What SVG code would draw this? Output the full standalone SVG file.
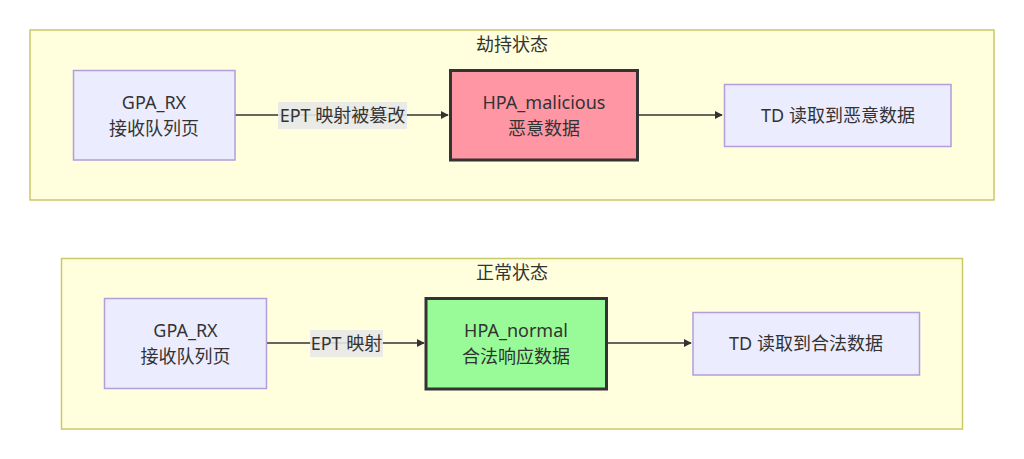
<svg xmlns="http://www.w3.org/2000/svg" width="1024" height="459" viewBox="0 0 1024 459">
<style>
text{font-family:"Noto Sans","Noto Sans CJK SC",sans-serif;font-size:18px;fill:#333;text-anchor:middle;dominant-baseline:central}
.cluster{fill:#ffffde;stroke:#c9c967;stroke-width:1.5}
.node{fill:#ececff;stroke:#b39ddb;stroke-width:1.5}
.bold{stroke:#333;stroke-width:3}
.edge{stroke:#333;stroke-width:1.5;fill:none}
.lbl{fill:#e8e8e8;opacity:0.9}
</style>
<defs>
<marker id="arr" viewBox="0 0 10 10" refX="9" refY="5" markerWidth="8" markerHeight="8" markerUnits="userSpaceOnUse" orient="auto">
<path d="M0,0 L10,5 L0,10 z" fill="#333"/>
</marker>
</defs>
<g id="cluster-hijack">
<rect class="cluster" x="30" y="30" width="964" height="170"/>
<text x="512" y="43.5">劫持状态</text>
</g>
<g id="cluster-normal">
<rect class="cluster" x="61.5" y="258.5" width="901" height="170.5"/>
<text x="512" y="271.5">正常状态</text>
</g>
<g id="edges">
<path class="edge" d="M235,115 L448,115" marker-end="url(#arr)"/>
<path class="edge" d="M638,115 L722,115" marker-end="url(#arr)"/>
<path class="edge" d="M267,343 L424,343" marker-end="url(#arr)"/>
<path class="edge" d="M607,343 L691,343" marker-end="url(#arr)"/>
<rect class="lbl" x="278" y="102" width="129" height="27"/>
<text x="342.5" y="115">EPT 映射被篡改</text>
<rect class="lbl" x="310" y="330" width="73" height="27"/>
<text x="346.5" y="343">EPT 映射</text>
</g>
<g id="GPA_RX_h">
<rect class="node" x="73.5" y="70.5" width="161.5" height="89.5"/>
<text x="154" y="102">GPA_RX</text>
<text x="154" y="128">接收队列页</text>
</g>
<g id="HPA_malicious">
<rect class="bold" fill="#ff96a3" x="450.5" y="70.5" width="187" height="89.5"/>
<text x="544" y="102">HPA_malicious</text>
<text x="544" y="128">恶意数据</text>
</g>
<g id="TD_h">
<rect class="node" x="724.5" y="84.5" width="226.5" height="62"/>
<text x="838" y="115">TD 读取到恶意数据</text>
</g>
<g id="GPA_RX_n">
<rect class="node" x="104.5" y="298.5" width="162" height="90"/>
<text x="185.5" y="330">GPA_RX</text>
<text x="185.5" y="356">接收队列页</text>
</g>
<g id="HPA_normal">
<rect class="bold" fill="#98fb98" x="426" y="298.5" width="180.5" height="90.5"/>
<text x="516" y="330">HPA_normal</text>
<text x="516" y="356">合法响应数据</text>
</g>
<g id="TD_n">
<rect class="node" x="693" y="312.5" width="226.5" height="62.5"/>
<text x="806" y="343">TD 读取到合法数据</text>
</g>
</svg>
